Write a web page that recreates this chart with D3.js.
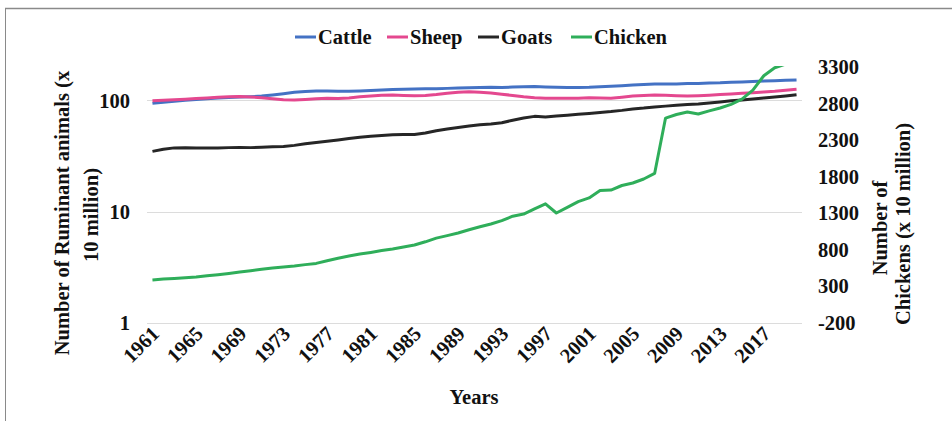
<!DOCTYPE html>
<html>
<head>
<meta charset="utf-8">
<script src="https://cdn.jsdelivr.net/npm/d3@7"></script>
<style>
  html, body { margin: 0; padding: 0; background: #fff; }
  svg { display: block; }
  text { font-family: "Liberation Serif", "Times New Roman", serif; font-weight: bold; fill: #111; }
</style>
</head>
<body>
<svg id="chart" width="952" height="421"></svg>
<script>
const years = d3.range(1961, 2021);
const tickYears = [1961, 1965, 1969, 1973, 1977, 1981, 1985, 1989, 1993, 1997, 2001, 2005, 2009, 2013, 2017];
const leftTicks = [1, 10, 100];
const rightTicks = [-200, 300, 800, 1300, 1800, 2300, 2800, 3300];

const cattle = [94.2, 96.5, 98.5, 100.5, 102, 103.8, 105.5, 106.5, 107.5, 108.3,
  109.5, 112, 115, 118.5, 120.5, 121.5, 121.5, 121, 121, 121.7,
  123, 124.5, 125.5, 126.5, 127, 127.5, 127.5, 128.5, 129.5, 130,
  131, 131.5, 131, 132, 133, 133.5, 132.5, 131.5, 131, 131,
  131.5, 133, 134, 135.5, 137.5, 139.5, 140.5, 141, 141, 142,
  142, 143.5, 144, 145.5, 146.5, 148, 149.5, 150.5, 152, 153];
const sheep = [99.4, 100.5, 101.5, 102.5, 104, 105.5, 107, 108, 108.5, 107.5,
  106, 103.5, 101.5, 101, 102, 103.5, 104.5, 104, 105.5, 108,
  110, 111.5, 112, 111, 110.5, 111, 113, 116, 118.5, 120,
  118.5, 117, 114, 111, 108, 106, 105, 104.5, 104.5, 105,
  106, 105.5, 105, 107, 109.5, 111, 112, 111.5, 110.5, 110,
  110.5, 111.5, 113, 114.5, 116, 117.5, 119.5, 121, 123.5, 126];
const goats = [34.9, 36.5, 37.5, 37.6, 37.5, 37.4, 37.5, 37.7, 37.8, 37.7,
  38, 38.3, 38.5, 39.5, 40.8, 42, 43, 44.2, 45.6, 46.8,
  47.8, 48.5, 49.2, 49.5, 49.4, 51, 53.5, 55.5, 57.3, 58.9,
  60.5, 61.5, 63, 66.5, 69.5, 72, 71, 72.5, 73.8, 75.1,
  76.5, 78, 79.5, 81.5, 84, 85.5, 87.5, 89, 90.5, 92.1,
  93, 95, 97, 99.5, 101, 103, 105.5, 107.5, 110, 112.8];
const chicken = [388, 400, 410, 418, 429, 445, 460, 478, 497, 515,
  535, 552, 566, 580, 598, 615, 650, 685, 715, 743,
  765, 790, 812, 840, 866, 910, 960, 995, 1030, 1075,
  1115, 1153, 1200, 1260, 1290, 1360, 1430, 1304, 1380, 1460,
  1510, 1610, 1618, 1680, 1714, 1769, 1845, 2602, 2650, 2684,
  2657, 2700, 2740, 2790, 2860, 2985, 3180, 3290, 3340, 3350];

const seriesNames = ["Cattle", "Sheep", "Goats", "Chicken"];
const seriesColors = ["#4472C4", "#E4488F", "#262626", "#2FAE5A"];

const svg = d3.select("#chart");
const W = 952, H = 421;
const plot = { left: 147, right: 802, top: 67, bottom: 323 };
const FS = 20.5;

// frame
svg.append("line").attr("x1", 5).attr("x2", W).attr("y1", 8.5).attr("y2", 8.5)
  .attr("stroke", "#8a8a8a").attr("stroke-width", 1.5);
svg.append("line").attr("x1", 5.5).attr("x2", 5.5).attr("y1", 8).attr("y2", H)
  .attr("stroke", "#8a8a8a").attr("stroke-width", 1);

const x = d3.scaleBand().domain(years).range([plot.left, plot.right]);
const xc = d => x(d) + x.bandwidth() / 2;
const yL = d3.scaleLog().domain([1, 200]).range([plot.bottom, plot.top]);
const yR = d3.scaleLinear().domain([-200, 3300]).range([plot.bottom, plot.top]);

// gridlines (left axis)
svg.append("g").selectAll("line").data(leftTicks).join("line")
  .attr("x1", plot.left).attr("x2", plot.right)
  .attr("y1", d => Math.round(yL(d)) + 0.5).attr("y2", d => Math.round(yL(d)) + 0.5)
  .attr("stroke", "#dcdcdc").attr("stroke-width", 1.2);

// left axis
const gL = svg.append("g").attr("transform", `translate(${plot.left},0)`)
  .call(d3.axisLeft(yL).tickValues(leftTicks).tickFormat(d3.format("d")).tickSize(0).tickPadding(17));
gL.select(".domain").remove();
gL.selectAll("text").style("font-size", FS + "px").style("font-family", "Liberation Serif").style("font-weight", "bold").attr("fill", "#111");

// right axis
const gR = svg.append("g").attr("transform", `translate(${plot.right},0)`)
  .call(d3.axisRight(yR).tickValues(rightTicks).tickFormat(d => String(d)).tickSize(0).tickPadding(16));
gR.select(".domain").remove();
gR.selectAll("text").style("font-size", FS + "px").style("font-family", "Liberation Serif").style("font-weight", "bold").attr("fill", "#111");

// x axis
const gX = svg.append("g").attr("transform", `translate(0,${plot.bottom})`)
  .call(d3.axisBottom(x).tickValues(tickYears).tickSize(0).tickPadding(0));
gX.select(".domain").remove();
gX.selectAll("text")
  .style("font-size", FS + "px").style("font-family", "Liberation Serif").style("font-weight", "bold").attr("fill", "#111")
  .attr("text-anchor", "end")
  .attr("dy", 0).attr("y", 0)
  .attr("transform", "translate(8,12) rotate(-45)");

// clip
svg.append("clipPath").attr("id", "clip").append("rect")
  .attr("x", plot.left).attr("y", plot.top - 1).attr("width", plot.right - plot.left).attr("height", plot.bottom - plot.top + 2);

const gLines = svg.append("g").attr("clip-path", "url(#clip)");
const lineL = d3.line().x((d, i) => xc(years[i])).y(d => yL(d));
const lineR = d3.line().x((d, i) => xc(years[i])).y(d => yR(d));
[cattle, sheep, goats].forEach((s, k) => {
  gLines.append("path").datum(s).attr("d", lineL)
    .attr("fill", "none").attr("stroke", seriesColors[k]).attr("stroke-width", 3)
    .attr("stroke-linejoin", "round");
});
gLines.append("path").datum(chicken).attr("d", lineR)
  .attr("fill", "none").attr("stroke", seriesColors[3]).attr("stroke-width", 3)
  .attr("stroke-linejoin", "round");

// legend
const legendX = [295, 387, 478, 571];
const lg = svg.append("g");
seriesNames.forEach((n, i) => {
  lg.append("line").attr("x1", legendX[i]).attr("x2", legendX[i] + 21)
    .attr("y1", 37).attr("y2", 37).attr("stroke", seriesColors[i]).attr("stroke-width", 3);
  lg.append("text").attr("x", legendX[i] + 23).attr("y", 37).attr("dy", "0.35em")
    .style("font-size", FS + "px").text(n);
});

// axis titles
function vtext(cx, cy, str) {
  svg.append("text").attr("transform", `translate(${cx},${cy}) rotate(-90)`)
    .attr("text-anchor", "middle").attr("dy", "0.35em")
    .style("font-size", FS + "px").text(str);
}
vtext(62, 213, "Number of Ruminant animals  (x");
vtext(91, 215, "10 million)");
vtext(880, 228, "Number of");
vtext(903, 224, "Chickens (x 10 million)");

svg.append("text").attr("x", 474).attr("y", 397).attr("dy", "0.35em")
  .attr("text-anchor", "middle").style("font-size", FS + "px").text("Years");
</script>
</body>
</html>
